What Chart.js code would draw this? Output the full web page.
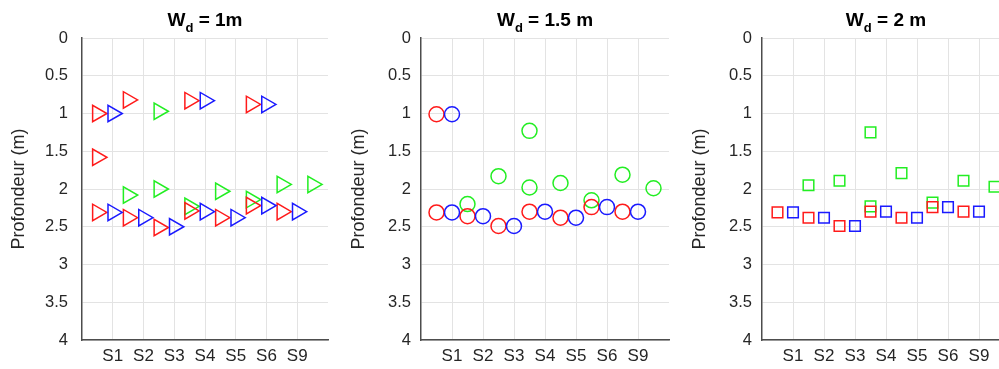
<!DOCTYPE html>
<html>
<head>
<meta charset="utf-8">
<script src="https://cdn.jsdelivr.net/npm/chart.js@4/dist/chart.umd.min.js"></script>
<style>
  body { margin:0; background:#fff; width:999px; height:369px; overflow:hidden; }
  canvas { position:absolute; top:0; }
</style>
</head>
<body>
<canvas id="c1" width="339" height="369" style="left:0px"></canvas>
<canvas id="c2" width="345" height="369" style="left:333px"></canvas>
<canvas id="c3" width="353" height="369" style="left:666px"></canvas>

<script>
// x labels and marker positions (red before, blue on, green after each site)
var xLabels = ['S1', 'S2', 'S3', 'S4', 'S5', 'S6', 'S9'];
var xTicks = [1, 2, 3, 4, 5, 6, 7];
var redPos = [0.5, 1.5, 2.5, 3.5, 4.5, 5.5, 6.5];
var bluePos = [1, 2, 3, 4, 5, 6, 7];
var greenPos = [1.5, 2.5, 3.5, 4.5, 5.5, 6.5, 7.5];
var yTicks = [0, 0.5, 1, 1.5, 2, 2.5, 3, 3.5, 4];

// Wd = 1 m (triangles)
var red1Low   = [2.31, 2.38, 2.51, 2.29, 2.38, 2.22, 2.30];
var red1High  = [1.00, 0.82, null, 0.83, null, 0.88, null];
var red1Extra = [1.58, null, null, null, null, null, null];
var blue1Low  = [2.31, 2.38, 2.50, 2.30, 2.38, 2.22, 2.30];
var blue1High = [1.00, null, null, 0.83, null, 0.88, null];
var green1Low  = [2.08, 2.00, 2.23, 2.03, 2.14, 1.94, 1.94];
var green1High = [null, 0.97, null, null, null, null, null];

// Wd = 1.5 m (circles)
var red2Low   = [2.31, 2.36, 2.49, 2.30, 2.38, 2.24, 2.30];
var red2High  = [1.01, null, null, null, null, null, null];
var blue2Low  = [2.31, 2.36, 2.49, 2.30, 2.38, 2.24, 2.30];
var blue2High = [1.01, null, null, null, null, null, null];
var green2Low  = [2.20, 1.83, 1.98, 1.92, 2.15, 1.81, 1.99];
var green2High = [null, null, 1.23, null, null, null, null];

// Wd = 2 m (squares)
var red3Low   = [2.31, 2.38, 2.49, 2.30, 2.38, 2.24, 2.30];
var blue3Low  = [2.31, 2.38, 2.49, 2.30, 2.38, 2.24, 2.30];
var green3Low  = [1.95, 1.89, 2.23, 1.79, 2.18, 1.89, 1.97];
var green3High = [null, null, 1.25, null, null, null, null];

var RED = '#ff1a1a', BLUE = '#1a1aff', GREEN = '#22ee22';
var FONT = "'Liberation Sans', Arial, sans-serif";

function pts(pos, vals) {
  var out = [];
  for (var i = 0; i < vals.length; i++) {
    if (vals[i] !== null) out.push({x: pos[i], y: vals[i]});
  }
  return out;
}

function ds(data, color, style, radius, order) {
  return {
    data: data,
    showLine: false,
    pointStyle: style,
    pointRotation: style === 'triangle' ? 90 : 0,
    pointRadius: radius,
    pointHoverRadius: radius,
    pointBorderWidth: 1.5,
    pointBorderColor: color,
    pointBackgroundColor: 'rgba(0,0,0,0)',
    order: order,
    clip: false
  };
}

// title with subscript d, drawn on the canvas
var titlePlugin = {
  id: 'wdTitle',
  afterDraw: function(chart) {
    var c = chart.ctx, a = chart.chartArea;
    var rest = chart.options.plugins.wdTitle.rest;
    c.save();
    c.fillStyle = '#000';
    c.textBaseline = 'alphabetic';
    var big = 'bold 19px ' + FONT, small = 'bold 13px ' + FONT;
    c.font = big; var w1 = c.measureText('W').width;
    c.font = small; var w2 = c.measureText('d').width;
    c.font = big; var w3 = c.measureText(rest).width;
    var x = (a.left + a.right) / 2 - (w1 + w2 + w3) / 2;
    var y = 26;
    c.font = big; c.fillText('W', x, y);
    c.font = small; c.fillText('d', x + w1, y + 6);
    c.font = big; c.fillText(rest, x + w1 + w2, y);
    c.restore();
  }
};

function makeChart(id, datasets, rest, yWidth, titlePad, tickPad) {
  return new Chart(document.getElementById(id), {
    type: 'scatter',
    data: {datasets: datasets},
    plugins: [titlePlugin],
    options: {
      responsive: false,
      animation: false,
      layout: {padding: {left: 0, right: 5, top: 38, bottom: 0}},
      plugins: {legend: {display: false}, tooltip: {enabled: false}, wdTitle: {rest: rest}},
      scales: {
        x: {
          type: 'linear', min: 0, max: 8,
          afterBuildTicks: function(s) { s.ticks = xTicks.map(function(v) { return {value: v}; }); },
          afterFit: function(s) { s.height = 29; },
          ticks: {
            autoSkip: false, maxRotation: 0, padding: 6, color: '#262626',
            font: {family: FONT, size: 17},
            callback: function(v) { return xLabels[xTicks.indexOf(v)]; }
          },
          grid: {color: '#e3e3e3', drawTicks: false},
          border: {display: true, color: '#4d4d4d', width: 1.5}
        },
        y: {
          type: 'linear', min: 0, max: 4, reverse: true,
          afterBuildTicks: function(s) { s.ticks = yTicks.map(function(v) { return {value: v}; }); },
          afterFit: function(s) { s.width = yWidth; },
          ticks: {
            padding: tickPad, color: '#262626',
            font: {family: FONT, size: 16.5},
            callback: function(v) { return String(v); }
          },
          grid: {color: '#e3e3e3', drawTicks: false},
          border: {display: true, color: '#4d4d4d', width: 1.5},
          title: {
            display: true, text: 'Profondeur (m)', color: '#262626',
            font: {family: FONT, size: 18}, padding: {top: titlePad, bottom: 0}
          }
        }
      }
    }
  });
}

makeChart('c1', [
  ds(pts(bluePos, blue1Low).concat(pts(bluePos, blue1High)), BLUE, 'triangle', 9.5, 0),
  ds(pts(redPos, red1Low).concat(pts(redPos, red1High), pts(redPos, red1Extra)), RED, 'triangle', 9.5, 1),
  ds(pts(greenPos, green1Low).concat(pts(greenPos, green1High)), GREEN, 'triangle', 9.5, 2)
], ' = 1m', 82, 8, 14);

makeChart('c2', [
  ds(pts(bluePos, blue2Low).concat(pts(bluePos, blue2High)), BLUE, 'circle', 7.5, 0),
  ds(pts(redPos, red2Low).concat(pts(redPos, red2High)), RED, 'circle', 7.5, 1),
  ds(pts(greenPos, green2Low).concat(pts(greenPos, green2High)), GREEN, 'circle', 7.5, 2)
], ' = 1.5 m', 88, 15, 10);

makeChart('c3', [
  ds(pts(bluePos, blue3Low), BLUE, 'rect', 7.5, 0),
  ds(pts(redPos, red3Low), RED, 'rect', 7.5, 1),
  ds(pts(greenPos, green3Low).concat(pts(greenPos, green3High)), GREEN, 'rect', 7.5, 2)
], ' = 2 m', 96, 23, 10);
</script>
</body>
</html>
